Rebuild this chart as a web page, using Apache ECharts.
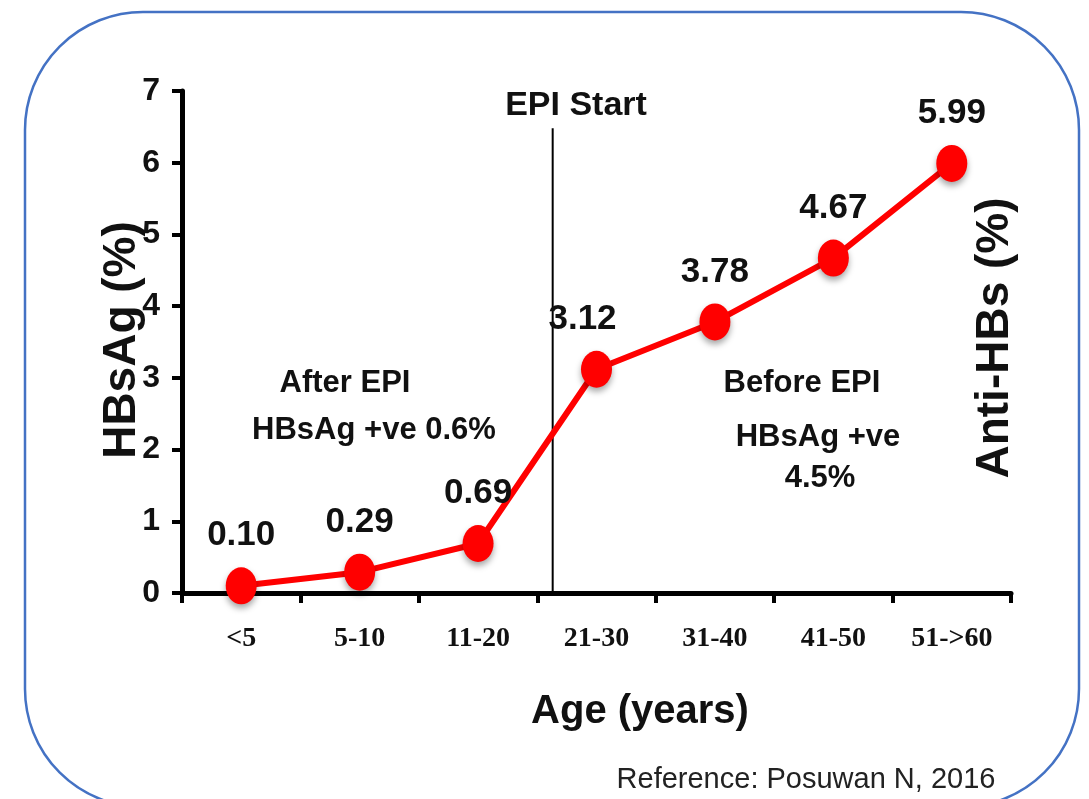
<!DOCTYPE html>
<html>
<head>
<meta charset="utf-8">
<script src="https://cdn.jsdelivr.net/npm/echarts@6/dist/echarts.min.js"></script>
<style>
html,body{margin:0;padding:0;background:#fff;}
#chart{width:1089px;height:799px;}
</style>
</head>
<body>
<div id="chart"></div>
<script>
// ---- data ----
const categories = ['<5', '5-10', '11-20', '21-30', '31-40', '41-50', '51->60'];
const hbsagValues = [0.10, 0.29, 0.69, 3.12, 3.78, 4.67, 5.99];
const yTicks = [0, 1, 2, 3, 4, 5, 6, 7];
const epiPosition = 2.63;   // position of the EPI start line on the category index scale
const epiLineTop = 6.48;    // top of the EPI start line (in %)

const chart = echarts.init(document.getElementById('chart'));
const SANS = '"Liberation Sans", Arial, sans-serif';
const SERIF = '"Liberation Serif", "Times New Roman", serif';

const seriesData = hbsagValues.map((v, i) => {
  const d = { value: v };
  if (i === 3) d.label = { offset: [-14, 0] };
  return d;
});

chart.setOption({
  animation: false,
  backgroundColor: '#fff',
  grid: { left: 182, right: 78, top: 91, bottom: 206, containLabel: false },
  xAxis: [{
    type: 'category',
    data: categories,
    boundaryGap: true,
    axisLine: { onZero: false, lineStyle: { color: '#000', width: 5 } },
    axisTick: { show: true, length: 10, lineStyle: { color: '#000', width: 4 }, alignWithLabel: false },
    axisLabel: { color: '#111', fontFamily: SERIF, fontWeight: 'bold', fontSize: 28, margin: 32 },
    splitLine: { show: false }
  }, {
    type: 'value',
    min: -0.5,
    max: 6.5,
    show: false
  }],
  yAxis: {
    type: 'value',
    min: yTicks[0],
    max: yTicks[yTicks.length - 1],
    interval: 1,
    axisLine: { show: true, onZero: false, lineStyle: { color: '#000', width: 5 } },
    axisTick: { show: true, length: 10, lineStyle: { color: '#000', width: 4 } },
    axisLabel: { color: '#111', fontFamily: SANS, fontWeight: 'bold', fontSize: 32, margin: 22 },
    splitLine: { show: false }
  },
  series: [{
    type: 'line',
    xAxisIndex: 1,
    data: [[epiPosition, 0], [epiPosition, epiLineTop]],
    symbol: 'none',
    lineStyle: { color: '#000', width: 2 },
    z: 1,
    silent: true
  }, {
    type: 'line',
    data: seriesData,
    symbol: 'circle',
    symbolSize: [31, 37],
    lineStyle: { color: '#ff0000', width: 6 },
    itemStyle: { color: '#ff0000', shadowBlur: 6, shadowColor: 'rgba(0,0,0,0.35)', shadowOffsetY: 4 },
    label: {
      show: true,
      position: 'top',
      distance: 14,
      formatter: p => p.value.toFixed(2),
      color: '#111',
      fontFamily: SANS,
      fontWeight: 'bold',
      fontSize: 35
    },
    z: 3
  }],
  graphic: [
    { type: 'rect', z: -1, silent: true,
      shape: { x: 25, y: 12, width: 1054, height: 795, r: 118 },
      style: { fill: 'none', stroke: '#4472C4', lineWidth: 2.5 } },
    { type: 'text', x: 122, y: 340, rotation: Math.PI / 2,
      style: { text: 'HBsAg (%)', fill: '#111', font: 'bold 46px ' + SANS, textAlign: 'center', textVerticalAlign: 'middle' } },
    { type: 'text', x: 995, y: 338, rotation: Math.PI / 2,
      style: { text: 'Anti-HBs (%)', fill: '#111', font: 'bold 46px ' + SANS, textAlign: 'center', textVerticalAlign: 'middle' } },
    { type: 'text', x: 576, y: 106,
      style: { text: 'EPI Start', fill: '#111', font: 'bold 34px ' + SANS, textAlign: 'center', textVerticalAlign: 'middle' } },
    { type: 'text', x: 345, y: 383,
      style: { text: 'After EPI', fill: '#111', font: 'bold 31px ' + SANS, textAlign: 'center', textVerticalAlign: 'middle' } },
    { type: 'text', x: 374, y: 430,
      style: { text: 'HBsAg +ve 0.6%', fill: '#111', font: 'bold 31px ' + SANS, textAlign: 'center', textVerticalAlign: 'middle' } },
    { type: 'text', x: 802, y: 383,
      style: { text: 'Before EPI', fill: '#111', font: 'bold 31px ' + SANS, textAlign: 'center', textVerticalAlign: 'middle' } },
    { type: 'text', x: 818, y: 437,
      style: { text: 'HBsAg +ve', fill: '#111', font: 'bold 31px ' + SANS, textAlign: 'center', textVerticalAlign: 'middle' } },
    { type: 'text', x: 820, y: 478,
      style: { text: '4.5%', fill: '#111', font: 'bold 31px ' + SANS, textAlign: 'center', textVerticalAlign: 'middle' } },
    { type: 'text', x: 640, y: 712,
      style: { text: 'Age (years)', fill: '#111', font: 'bold 40px ' + SANS, textAlign: 'center', textVerticalAlign: 'middle' } },
    { type: 'text', x: 806, y: 780,
      style: { text: 'Reference: Posuwan N, 2016', fill: '#222', font: '29px ' + SANS, textAlign: 'center', textVerticalAlign: 'middle' } }
  ]
});
</script>
</body>
</html>
